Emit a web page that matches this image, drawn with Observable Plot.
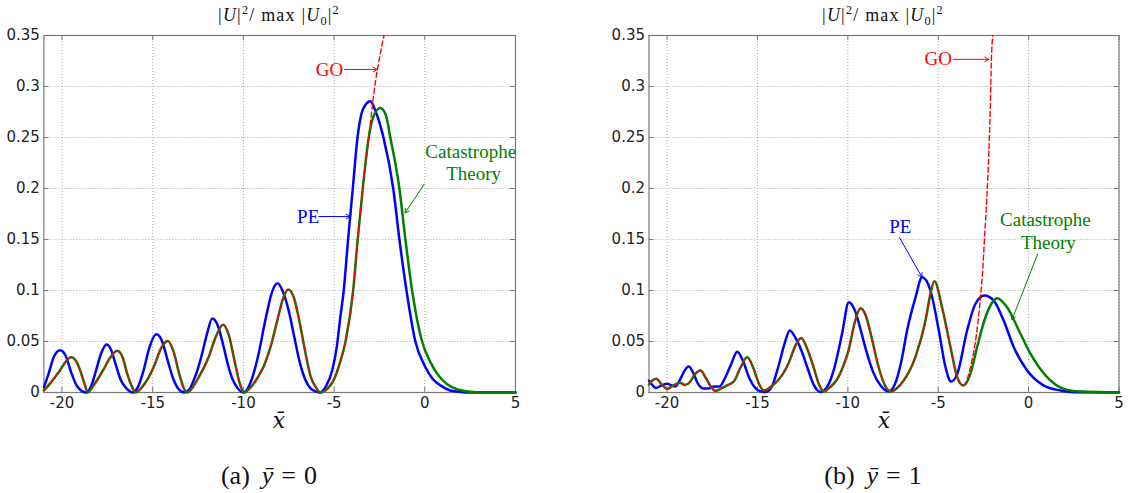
<!DOCTYPE html>
<html><head><meta charset="utf-8">
<script src="https://cdn.jsdelivr.net/npm/d3@7"></script>
<script src="https://cdn.jsdelivr.net/npm/@observablehq/plot@0.6"></script>
<style>
body{margin:0;background:#fff;}
#root{position:relative;width:1128px;height:493px;overflow:hidden;background:#fff;}
.abs{position:absolute;white-space:nowrap;transform:translate(-50%,-50%);line-height:1;color:#111;}
.title{font-family:"Liberation Serif",serif;font-size:18px;letter-spacing:1.2px;}
.title sup{font-size:0.68em;vertical-align:0.55em;line-height:0;}
.title sub{font-size:0.68em;vertical-align:-0.3em;line-height:0;}
.xlab{font-family:"DejaVu Serif",serif;font-size:22px;font-style:italic;}
.cap{font-family:"Liberation Serif",serif;font-size:26px;}
.cap i{margin:0 8px 0 12px;}
.cap .eq{margin-right:8px;}
.panel{position:absolute;top:0;}
</style>
</head><body><div id="root">
<div class="panel" id="pa" style="left:0px"></div>
<div class="panel" id="pb" style="left:560px"></div>
<div class="abs title" style="left:279px;top:15px">|<i>U</i>|<sup>2</sup>/ max |<i>U</i><sub>0</sub>|<sup>2</sup></div>
<div class="abs title" style="left:883px;top:15px">|<i>U</i>|<sup>2</sup>/ max |<i>U</i><sub>0</sub>|<sup>2</sup></div>
<div class="abs xlab" style="left:279px;top:421px">x&#772;</div>
<div class="abs xlab" style="left:884px;top:421px">x&#772;</div>
<div class="abs cap" style="left:269px;top:476px">(a)<i>ȳ</i><span class="eq">=</span>0</div>
<div class="abs cap" style="left:873px;top:476px">(b)<i>ȳ</i><span class="eq">=</span>1</div>
</div>
<script>
// ---------- tick values ----------
const xTicks = [-20, -15, -10, -5, 0, 5];
const yTicks = [0, 0.05, 0.1, 0.15, 0.2, 0.25, 0.3, 0.35];

// ---------- panel (a): ybar = 0 ----------
const peA_x = [-21.0, -20.75, -20.45, -20.1, -19.8, -19.5, -19.2, -18.95, -18.68,
  -18.4, -18.15, -17.85, -17.55, -17.3, -17.05, -16.78, -16.45, -16.1,
  -15.8, -15.5, -15.2, -14.8, -14.5, -14.2, -13.9, -13.6, -13.25,
  -12.95, -12.74, -12.5, -12.28, -12.0, -11.72, -11.4, -11.08, -10.85, -10.62, -10.35, -10.0,
  -9.6, -9.2, -8.8, -8.45, -8.12, -7.85, -7.5, -7.2, -6.9, -6.6, -6.3, -6.0, -5.8,
  -5.45, -5.1, -4.85, -4.65, -4.47, -4.23, -3.97, -3.71, -3.4, -3.0, -2.7, -2.28, -1.74, -1.4, -1.01, -0.52,
  0.0, 0.45, 0.86, 1.4, 2.0, 2.5, 5.0];
const peA_y = [0.005, 0.018, 0.035, 0.0415, 0.036, 0.02, 0.007, 0.002, 0,
  0.006, 0.02, 0.038, 0.047, 0.042, 0.028, 0.013, 0.004, 0,
  0.006, 0.022, 0.043, 0.057, 0.051, 0.033, 0.015, 0.004, 0,
  0.004, 0.012, 0.024, 0.038, 0.058, 0.0725, 0.065, 0.044, 0.027, 0.014, 0.005, 0,
  0.01, 0.035, 0.07, 0.097, 0.107, 0.1, 0.08, 0.055, 0.03, 0.013, 0.004, 0.001, 0,
  0.006, 0.022, 0.045, 0.075, 0.1, 0.15, 0.2, 0.25, 0.278, 0.2855, 0.275, 0.25, 0.2, 0.15, 0.1, 0.05,
  0.026, 0.013, 0.007, 0.002, 0.0005, 0, 0];

const ctA_x = [-21.0, -20.7, -20.36, -20.1, -19.85, -19.5, -19.2, -18.95, -18.75, -18.58,
  -18.3, -18.0, -17.7, -17.35, -16.96, -16.65, -16.4, -16.15, -15.95,
  -15.6, -15.25, -14.9, -14.55, -14.17, -13.85, -13.55, -13.3, -13.1,
  -12.8, -12.46, -11.91, -11.54, -11.12, -10.8, -10.5, -10.2, -9.97,
  -9.6, -9.2, -8.85, -8.5, -8.14, -7.8, -7.53, -7.2, -6.85, -6.55, -6.3, -6.0, -5.74,
  -5.35, -5.0, -4.7, -4.37, -3.95, -3.7, -3.42, -3.09, -2.8, -2.45, -2.15, -1.9, -1.4, -1.07, -0.7, -0.15,
  0.3, 0.7, 1.23, 1.8, 2.5, 3.2, 5.0];
const ctA_y = [0.002, 0.008, 0.0157, 0.022, 0.029, 0.0345, 0.03, 0.019, 0.008, 0,
  0.006, 0.014, 0.023, 0.034, 0.041, 0.034, 0.018, 0.006, 0,
  0.005, 0.014, 0.027, 0.043, 0.0505, 0.04, 0.019, 0.005, 0,
  0.005, 0.015, 0.035, 0.054, 0.0665, 0.056, 0.032, 0.009, 0,
  0.005, 0.015, 0.027, 0.045, 0.07, 0.093, 0.101, 0.092, 0.064, 0.036, 0.016, 0.005, 0,
  0.004, 0.013, 0.028, 0.05, 0.1, 0.15, 0.2, 0.25, 0.272, 0.279, 0.272, 0.25, 0.2, 0.15, 0.1, 0.05,
  0.03, 0.018, 0.008, 0.003, 0.0008, 0, 0];

// GO follows the catastrophe-theory curve up to goA_split, then diverges
const goA_split = -3.09;
const goA_x = [-2.9, -2.72, -2.6, -2.42, -2.25];
const goA_y = [0.28, 0.305, 0.318, 0.335, 0.35];

// annotations (data coordinates)
const labelsA = [
  {k: "go", text: "GO", x: -5.26, y: 0.3167},
  {k: "pe", text: "PE", x: -6.43, y: 0.172},
  {k: "ct", text: "Catastrophe", x: 2.53, y: 0.236},
  {k: "ct", text: "Theory", x: 2.69, y: 0.2145}
];
const arrowsA = [
  {k: "go", x1: -4.43, y1: 0.3167, x2: -2.63, y2: 0.3167},
  {k: "pe", x1: -5.84, y1: 0.1725, x2: -4.1, y2: 0.1725},
  {k: "ct", x1: -0.04, y1: 0.204, x2: -1.09, y2: 0.176}
];

// ---------- panel (b): ybar = 1 ----------
const peB_x = [-21.0, -20.8, -20.62, -20.3, -20.0, -19.75, -19.55, -19.3, -19.05, -18.8, -18.55, -18.3,
  -18.0, -17.7, -17.4, -17.1, -16.8, -16.45, -16.12, -15.8, -15.45, -15.1, -14.8, -14.55,
  -14.2, -13.85, -13.5, -13.21, -12.85, -12.5, -12.25, -11.9, -11.5,
  -11.1, -10.78, -10.32, -9.95, -9.6, -9.3, -9.0, -8.6, -8.2, -7.75,
  -7.4, -7.05, -6.72, -6.26, -5.89, -5.43, -4.97, -4.6, -4.29, -3.95,
  -3.4, -2.94, -2.44, -1.93, -1.37, -0.82, -0.08, 0.84, 1.76, 2.5, 5.0];
const peB_y = [0.0115, 0.007, 0.0045, 0.007, 0.0085, 0.007, 0.006, 0.012, 0.021, 0.0255, 0.019, 0.009,
  0.004, 0.004, 0.006, 0.006, 0.014, 0.028, 0.040, 0.031, 0.014, 0.004, 0.001, 0.0005,
  0.006, 0.025, 0.048, 0.0608, 0.052, 0.038, 0.025, 0.008, 0.0005,
  0.007, 0.022, 0.0575, 0.0885, 0.08, 0.062, 0.042, 0.02, 0.007, 0.001,
  0.008, 0.03, 0.061, 0.093, 0.113, 0.1, 0.061, 0.025, 0.0108, 0.018,
  0.061, 0.087, 0.095, 0.09, 0.07, 0.0444, 0.0215, 0.0068, 0.002, 0.0003, 0];

const ctB_x = [-21.0, -20.8, -20.6, -20.3, -20.0, -19.65, -19.3, -19.0, -18.75, -18.45, -18.15, -17.85,
  -17.55, -17.32, -17.0, -16.68, -16.3, -15.95, -15.57, -15.25, -14.95, -14.65,
  -14.3, -13.91, -13.6, -13.27, -12.9, -12.58, -12.25, -11.88, -11.6, -11.33,
  -11.0, -10.59, -10.25, -9.95, -9.6, -9.3, -9.0, -8.7, -8.3, -7.95, -7.64,
  -7.3, -6.9, -6.26, -5.71, -5.45, -5.21, -4.79, -4.32, -3.95, -3.62,
  -3.22, -2.85, -2.39, -2.02, -1.74, -1.19, -0.545, 0.1, 1.02, 1.94, 2.87, 5.0];
const ctB_y = [0.008, 0.012, 0.0135, 0.008, 0.0035, 0.007, 0.0095, 0.0075, 0.01, 0.018, 0.0215, 0.014,
  0.005, 0.0015, 0.004, 0.007, 0.011, 0.024, 0.0345, 0.025, 0.01, 0.002,
  0.005, 0.011, 0.018, 0.029, 0.046, 0.0535, 0.043, 0.024, 0.008, 0.001,
  0.005, 0.013, 0.026, 0.042, 0.07, 0.0825, 0.075, 0.055, 0.025, 0.007, 0.001,
  0.004, 0.012, 0.035, 0.07, 0.095, 0.109, 0.0836, 0.0444, 0.015, 0.0068,
  0.0183, 0.0444, 0.0738, 0.088, 0.0925, 0.0836, 0.061, 0.038, 0.015, 0.0036, 0.001, 0];

const goB_split = -3.62;
const goB_x = [-3.4, -3.15, -2.9, -2.68, -2.56, -2.42, -2.3, -2.2, -2.12, -2.06, -1.98];
const goB_y = [0.013, 0.03, 0.055, 0.09, 0.115, 0.157, 0.195, 0.235, 0.28, 0.326, 0.35];

const labelsB = [
  {k: "go", text: "GO", x: -5.0, y: 0.3266},
  {k: "pe", text: "PE", x: -7.1, y: 0.1623},
  {k: "ct", text: "Catastrophe", x: 0.93, y: 0.169},
  {k: "ct", text: "Theory", x: 1.09, y: 0.147}
];
const arrowsB = [
  {k: "go", x1: -4.17, y1: 0.3266, x2: -2.2, y2: 0.3266},
  {k: "pe", x1: -7.14, y1: 0.1518, x2: -5.9, y2: 0.113},
  {k: "ct", x1: 0.49, y1: 0.1354, x2: -0.92, y2: 0.0713}
];

// ---------- drawing ----------
const COLORS = {pe: "#0000ff", ct: "#007f00", go: "#ff0000"};
const GRID = "#a8a8a8", FRAME = "#7a7a7a";
const rows = (xs, ys) => xs.map((x, i) => ({x, y: ys[i]}));

function panel(el, o) {
  const W = o.width, H = 420, mT = 35, mB = 28;
  const iw = W - o.mL - o.mR, ih = H - mT - mB;
  const pe = rows(o.peX, o.peY), ct = rows(o.ctX, o.ctY);
  const go = ct.filter(d => d.x <= o.split).concat(rows(o.goX, o.goY));
  const marks = [
    Plot.ruleX(xTicks, {stroke: GRID, strokeDasharray: "1,2", strokeWidth: 1}),
    Plot.ruleY(yTicks, {stroke: GRID, strokeDasharray: "1,2", strokeWidth: 1}),
    Plot.ruleX(xTicks, {stroke: FRAME, insetTop: ih - 5}),
    Plot.ruleX(xTicks, {stroke: FRAME, insetBottom: ih - 5}),
    Plot.ruleY(yTicks, {stroke: FRAME, insetRight: iw - 5}),
    Plot.ruleY(yTicks, {stroke: FRAME, insetLeft: iw - 5}),
    Plot.frame({stroke: FRAME, strokeWidth: 1.2}),
    Plot.axisX({ticks: xTicks, tickSize: 0, tickPadding: 5, tickFormat: d => String(d), label: null}),
    Plot.axisY({ticks: yTicks, tickSize: 0, tickPadding: 4, tickFormat: d => String(d), label: null}),
    Plot.line(pe, {x: "x", y: "y", stroke: COLORS.pe, strokeWidth: 2.5, curve: "monotone-x"}),
    Plot.line(ct, {x: "x", y: "y", stroke: COLORS.ct, strokeWidth: 2.5, curve: "monotone-x"}),
    Plot.line(go, {x: "x", y: "y", stroke: COLORS.go, strokeWidth: 1.4, strokeDasharray: "5,3", curve: "monotone-x", clip: true})
  ];
  for (const k of ["go", "pe", "ct"]) {
    marks.push(Plot.arrow(o.arrows.filter(d => d.k === k), {x1: "x1", y1: "y1", x2: "x2", y2: "y2", stroke: COLORS[k], strokeWidth: 1, headLength: 7}));
    marks.push(Plot.text(o.labels.filter(d => d.k === k), {x: "x", y: "y", text: "text", fill: COLORS[k], fontFamily: "Liberation Serif", fontSize: 19}));
  }
  const chart = Plot.plot({
    width: W, height: H, marginLeft: o.mL, marginRight: o.mR, marginTop: mT, marginBottom: mB,
    x: {domain: [-21, 5]}, y: {domain: [0, 0.35]},
    style: {fontFamily: "DejaVu Sans", fontSize: "15px", color: "#222", background: "transparent", overflow: "visible"},
    marks
  });
  document.getElementById(el).appendChild(chart);
}

panel("pa", {width: 560, mL: 43.4, mR: 45, peX: peA_x, peY: peA_y, ctX: ctA_x, ctY: ctA_y,
  split: goA_split, goX: goA_x, goY: goA_y, labels: labelsA, arrows: arrowsA});
panel("pb", {width: 568, mL: 88.5, mR: 9.5, peX: peB_x, peY: peB_y, ctX: ctB_x, ctY: ctB_y,
  split: goB_split, goX: goB_x, goY: goB_y, labels: labelsB, arrows: arrowsB});
</script>
</body></html>
